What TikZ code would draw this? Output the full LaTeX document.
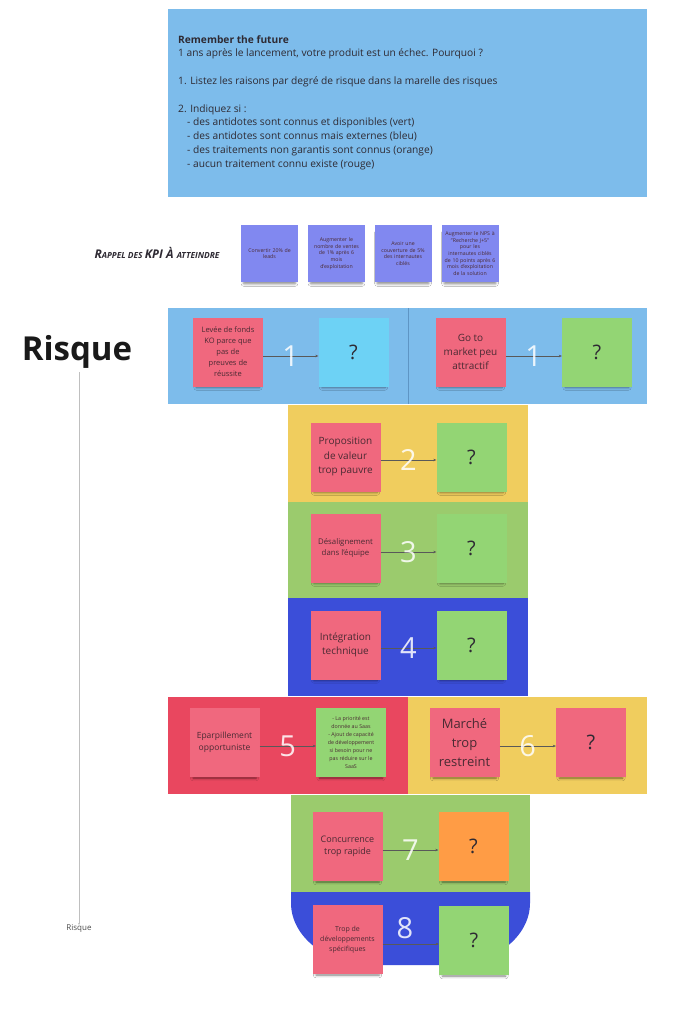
\documentclass[tikz,border=0pt]{standalone}
\usepackage{fontspec}
\setmainfont{Open Sans}
\usetikzlibrary{arrows.meta,shadows.blur}
\definecolor{lblue}{HTML}{7DBCEB}
\definecolor{divb}{HTML}{5E95C4}
\definecolor{yel}{HTML}{F0CD5E}
\definecolor{grnb}{HTML}{9BCB6D}
\definecolor{dblue}{HTML}{3B4ED9}
\definecolor{redb}{HTML}{E9475F}
\definecolor{reds}{HTML}{F0687E}
\definecolor{grns}{HTML}{93D574}
\definecolor{cyans}{HTML}{6DD2F5}
\definecolor{orgs}{HTML}{FF9C45}
\definecolor{kpis}{HTML}{8188F0}
\definecolor{txt}{HTML}{2E2A33}
\definecolor{stxt}{HTML}{4A2A33}
\newcommand\fs[2]{\fontsize{#1}{#2}\selectfont}
\tikzset{
  sticky/.style={minimum width=70pt, minimum height=69pt, inner sep=0pt, align=center,
    text=stxt, blur shadow={shadow xshift=0pt, shadow yshift=-5pt, shadow opacity=50, shadow scale=0.9, shadow blur radius=3pt}},
  kpi/.style={sticky, fill=kpis, minimum width=57pt, minimum height=57pt, text width=52pt, font=\fs{5.2}{6.6}},
  qmark/.style={sticky, font=\fs{20}{20}, text=txt},
  link/.style={draw=black!65, line width=0.4pt, -{Stealth[length=3pt,width=2.6pt]}},
  num/.style={font=\fs{29}{29}, text=white, text opacity=0.85, inner sep=0pt}
}
\begin{document}
\begin{tikzpicture}[x=1pt,y=-1pt]
\useasboundingbox[fill=white] (0,0) rectangle (690,1024);

% instruction box
\fill[lblue] (168,9) rectangle (647,197);
\node[anchor=north west, inner sep=0pt, align=left, text=txt, font=\fs{10.2}{13.8}] (intro) at (178,35)
 {\textbf{Remember the future}\\
  1 ans après le lancement, votre produit est un échec. Pourquoi ?\\[13.8pt]
  1. Listez les raisons par degré de risque dans la marelle des risques\\[13.8pt]
  2. Indiquez si :\\
  \hspace*{9pt}- des antidotes sont connus et disponibles (vert)\\
  \hspace*{9pt}- des antidotes sont connus mais externes (bleu)\\
  \hspace*{9pt}- des traitements non garantis sont connus (orange)\\
  \hspace*{9pt}- aucun traitement connu existe (rouge)};

% KPI row
\node[text=txt, inner sep=0pt] (kpilabel) at (157,253)
 {\bfseries\itshape{\fs{12}{12}R}{\fs{8.4}{12}APPEL DES }{\fs{12}{12}KPI À }{\fs{8.4}{12}ATTEINDRE}};
\node[kpi] (k1) at (269.5,253.5) {Convertir 20\% de\\leads\\[6pt]};
\node[kpi] (k2) at (336.5,253.5) {Augmenter le\\nombre de ventes\\de 1\% après 6\\mois\\d'exploitation\\[6pt]};
\node[kpi] (k3) at (403,253.5) {Avoir une\\couverture de 5\%\\des internautes\\ciblés\\[6pt]};
\node[kpi] (k4) at (470,253.5) {Augmenter le NPS à\\"Recherche J+5"\\pour les\\internautes ciblés\\de 10 points après 6\\mois d'exploitation\\de la solution\\[6pt]};

% axis
\node[font=\bfseries\fs{33}{33}, text=black!90, inner sep=0pt] (risk) at (77,352) {Risque};
\node[font=\fs{8}{8}, text=black!70, inner sep=0pt] (risklow) at (79,929) {Risque};
\draw[draw=black!25, line width=0.6pt, -{Stealth[length=2pt,width=2pt]}] (79,372) -- (risklow.north);

% bands
\fill[lblue] (168,308) rectangle (647,404);
\draw[divb, line width=0.7pt] (408,308) -- (408,404);
\fill[yel] (288,405) rectangle (528,502);
\fill[grnb] (288,502) rectangle (528,598);
\fill[dblue] (288,598) rectangle (528,696);
\fill[redb] (168,697) rectangle (408,794);
\fill[yel] (408,697) rectangle (647,794);
\fill[grnb] (291,795) rectangle (530,892);
\fill[dblue] (291,892) -- (291,903) .. controls (291,937) and (327,965) .. (371,965)
  -- (450,965) .. controls (494,965) and (530,937) .. (530,903) -- (530,892) -- cycle;

% row 1 left
\node[sticky, fill=reds, font=\fs{7.5}{11}] (r1a) at (228,352) {Levée de fonds\\KO parce que\\pas de\\preuves de\\réussite};
\node[qmark, fill=cyans] (q1a) at (353.5,352) {?};
\draw[link] ([yshift=-4pt]r1a.east) -- node[num] {1} ([yshift=-4pt]q1a.west);
% row 1 right
\node[sticky, fill=reds, font=\fs{10}{14}] (r1b) at (470.5,352) {Go to\\market peu\\attractif};
\node[qmark, fill=grns] (q1b) at (597,352) {?};
\draw[link] ([yshift=-4pt]r1b.east) -- node[num] {1} ([yshift=-4pt]q1b.west);
% row 2
\node[sticky, fill=reds, font=\fs{10}{14.5}] (r2) at (345.5,457) {Proposition\\de valeur\\trop pauvre};
\node[qmark, fill=grns] (q2) at (471.5,457) {?};
\draw[link] ([yshift=-3pt]r2.east) -- node[num] {2} ([yshift=-3pt]q2.west);
% row 3
\node[sticky, fill=reds, font=\fs{7.8}{11.5}] (r3) at (345.5,548) {Désalignement\\dans l'équipe};
\node[qmark, fill=grns] (q3) at (471.5,548) {?};
\draw[link] ([yshift=-4pt]r3.east) -- node[num] {3} ([yshift=-4pt]q3.west);
% row 4
\node[sticky, fill=reds, font=\fs{10}{14.5}] (r4) at (345.5,645) {Intégration\\technique};
\node[qmark, fill=grns] (q4) at (471.5,645) {?};
\draw[link] ([yshift=-3pt]r4.east) -- node[num] {4} ([yshift=-3pt]q4.west);
% row 5
\node[sticky, fill=reds, font=\fs{8.5}{12}] (r5) at (224.5,742.5) {Eparpillement\\opportuniste};
\node[sticky, fill=grns, font=\fs{5.3}{8}] (q5) at (351,742.5) {- La priorité est\\donnée au Saas\\- Ajout de capacité\\de développement\\si besoin pour ne\\pas réduire sur le\\SaaS};
\draw[link] ([yshift=-3.5pt]r5.east) -- node[num] {5} ([yshift=-3.5pt]q5.west);
% row 6
\node[sticky, fill=reds, font=\fs{13}{19}] (r6) at (464.5,742.5) {Marché\\trop\\restreint};
\node[qmark, fill=reds] (q6) at (591,742.5) {?};
\draw[link] ([yshift=-3.5pt]r6.east) -- node[num] {6} ([yshift=-3.5pt]q6.west);
% row 7
\node[sticky, fill=reds, font=\fs{9}{12}] (r7) at (347.5,846.5) {Concurrence\\trop rapide};
\node[qmark, fill=orgs] (q7) at (473.5,846.5) {?};
\draw[link] ([yshift=-3.5pt]r7.east) -- node[num] {7} ([yshift=-3.5pt]q7.west);
% row 8
\node[sticky, fill=reds, font=\fs{7}{10}] (r8) at (347.5,939.5) {Trop de\\développements\\spécifiques};
\node[qmark, fill=grns] (q8) at (474,940.5) {?};
\draw[link] ([yshift=-4.5pt]r8.east) -- ([yshift=-3.5pt]q8.west);
\node[num] (n8) at (405,928) {8};
\end{tikzpicture}
\end{document}
